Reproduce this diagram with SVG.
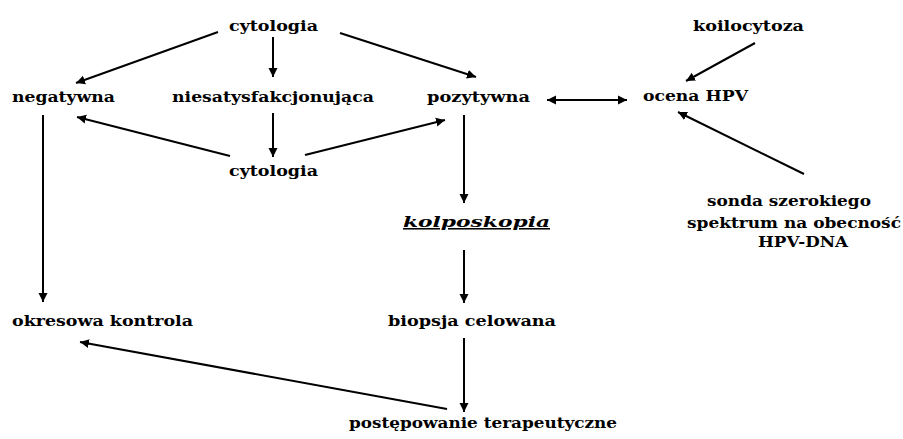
<svg xmlns="http://www.w3.org/2000/svg" width="903" height="439" viewBox="0 0 903 439">
<style>
.t{font-family:"DejaVu Serif","Liberation Serif",serif;font-size:15.5px;font-weight:bold;fill:#000}
.k{font-style:italic;text-decoration:underline}
.c line{stroke:#000;stroke-width:2;fill:none}
</style>
<defs>
<marker id="ah" viewBox="0 0 10 10" refX="10" refY="5" markerWidth="9" markerHeight="10" markerUnits="userSpaceOnUse" orient="auto-start-reverse">
<path d="M0,0 L10,5 L0,10 z" fill="#000"/>
</marker>
</defs>
<rect width="903" height="439" fill="#fff"/>
<g class="c" id="connectors">
<line x1="218" y1="32" x2="76" y2="83" marker-end="url(#ah)"/>
<line x1="273" y1="37" x2="273" y2="77" marker-end="url(#ah)"/>
<line x1="340" y1="33" x2="476" y2="77" marker-end="url(#ah)"/>
<line x1="273" y1="113" x2="273" y2="157" marker-end="url(#ah)"/>
<line x1="230" y1="156" x2="77" y2="117" marker-end="url(#ah)"/>
<line x1="305" y1="155" x2="445" y2="120" marker-end="url(#ah)"/>
<line x1="547" y1="100" x2="627" y2="100" marker-start="url(#ah)" marker-end="url(#ah)"/>
<line x1="755" y1="43" x2="686" y2="81" marker-end="url(#ah)"/>
<line x1="804" y1="174" x2="678" y2="112" marker-end="url(#ah)"/>
<line x1="43" y1="115" x2="43" y2="302" marker-end="url(#ah)"/>
<line x1="464" y1="115" x2="464" y2="203" marker-end="url(#ah)"/>
<line x1="464" y1="250" x2="464" y2="303" marker-end="url(#ah)"/>
<line x1="464" y1="338" x2="464" y2="412" marker-end="url(#ah)"/>
<line x1="447" y1="409" x2="80" y2="342" marker-end="url(#ah)"/>
</g>
<g id="cytologia1"><text class="t" x="229" y="31" textLength="89" lengthAdjust="spacingAndGlyphs">cytologia</text></g>
<g id="negatywna"><text class="t" x="12" y="102" textLength="103" lengthAdjust="spacingAndGlyphs">negatywna</text></g>
<g id="niesatysfakcjonujaca"><text class="t" x="172" y="102" textLength="202" lengthAdjust="spacingAndGlyphs">niesatysfakcjonująca</text></g>
<g id="pozytywna"><text class="t" x="427" y="102" textLength="103" lengthAdjust="spacingAndGlyphs">pozytywna</text></g>
<g id="ocenaHPV"><text class="t" x="643" y="101" textLength="105" lengthAdjust="spacingAndGlyphs">ocena HPV</text></g>
<g id="koilocytoza"><text class="t" x="693" y="31" textLength="111" lengthAdjust="spacingAndGlyphs">koilocytoza</text></g>
<g id="cytologia2"><text class="t" x="229" y="176" textLength="89" lengthAdjust="spacingAndGlyphs">cytologia</text></g>
<g id="sonda">
<text class="t" x="707" y="206" textLength="164" lengthAdjust="spacingAndGlyphs">sonda szerokiego</text>
<text class="t" x="687" y="228" textLength="214" lengthAdjust="spacingAndGlyphs">spektrum na obecność</text>
<text class="t" x="758" y="247" textLength="90" lengthAdjust="spacingAndGlyphs">HPV-DNA</text>
</g>
<g id="kolposkopia"><text class="t k" x="403" y="227" textLength="147" lengthAdjust="spacingAndGlyphs">kolposkopia</text></g>
<g id="okresowa"><text class="t" x="12" y="326" textLength="181" lengthAdjust="spacingAndGlyphs">okresowa kontrola</text></g>
<g id="biopsja"><text class="t" x="388" y="326" textLength="168" lengthAdjust="spacingAndGlyphs">biopsja celowana</text></g>
<g id="postepowanie"><text class="t" x="349" y="428" textLength="268" lengthAdjust="spacingAndGlyphs">postępowanie terapeutyczne</text></g>
</svg>
